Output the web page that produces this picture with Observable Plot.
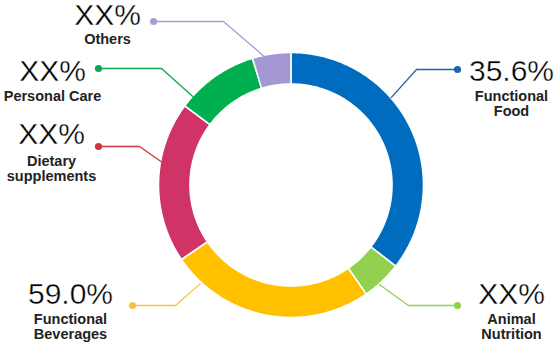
<!DOCTYPE html>
<html>
<head>
<meta charset="utf-8">
<script src="https://cdn.jsdelivr.net/npm/d3@7"></script>
<script src="https://cdn.jsdelivr.net/npm/@observablehq/plot@0.6"></script>
<style>
  html, body { margin: 0; padding: 0; background: #fff; }
  #chart svg { display: block; }
</style>
</head>
<body>
<div id="chart"></div>
<script>
// ---- data ----
const categories = ["Functional Food", "Animal Nutrition", "Functional Beverages", "Dietary supplements", "Personal Care", "Others"];
const shares = [35.5, 4.9, 25.1, 19.7, 10.1, 4.7];
const pctLabels = ["35.6%", "XX%", "59.0%", "XX%", "XX%", "XX%"];
const nameLabels = ["Functional\nFood", "Animal\nNutrition", "Functional\nBeverages", "Dietary\nsupplements", "Personal Care", "Others"];
const sliceColors = ["#006cbf", "#92d050", "#ffc000", "#d03366", "#00b050", "#a597d4"];
const leaderColors = ["#1f62ad", "#92d050", "#f7c342", "#c9393d", "#0aa653", "#a99cd8"];

// ---- layout (positions only) ----
const W = 556, H = 343;
const cx = 290.5, cy = 184.5, rInner = 101, rOuter = 132.5;
// leader: ring angle (deg, clockwise from top), ring radius, elbow, dot; text: center x, pct baseline, name baseline (last line)
const layout = [
  {ang: 48.9,  r: 133, ex: 416, ey: 69,  dx: 457, dy: 69,  tx: 511, py: 80,  ny: 115},
  {ang: 138.4, r: 133, ex: 408, ey: 305, dx: 457, dy: 305, tx: 511, py: 303, ny: 338},
  {ang: 222.6, r: 134, ex: 175, ey: 305, dx: 132, dy: 305, tx: 70,  py: 303, ny: 338},
  {ang: 280,   r: 131, ex: 139, ey: 146, dx: 98,  dy: 146, tx: 51,  py: 143, ny: 180},
  {ang: 312,   r: 131, ex: 161, ey: 68,  dx: 98,  dy: 68,  tx: 52,  py: 80,  ny: 100},
  {ang: 348,   r: 132, ex: 223, ey: 21,  dx: 153, dy: 21,  tx: 107, py: 24,  ny: 43}
];

// ---- slices via d3.pie ----
const pie = d3.pie().sort(null).value(d => d)(shares);
const polar = (r, a) => [cx + r * Math.sin(a), cy - r * Math.cos(a)];
const slicePts = [];
pie.forEach((p, i) => {
  const n = Math.max(8, Math.ceil((p.endAngle - p.startAngle) / 0.01));
  for (let k = 0; k <= n; k++) {
    const a = p.startAngle + (p.endAngle - p.startAngle) * k / n;
    const [x, y] = polar(rOuter, a);
    slicePts.push({category: categories[i], x, y});
  }
  for (let k = n; k >= 0; k--) {
    const a = p.startAngle + (p.endAngle - p.startAngle) * k / n;
    const [x, y] = polar(rInner, a);
    slicePts.push({category: categories[i], x, y});
  }
});

// ---- leader lines ----
const leaderPts = [];
const dots = [];
layout.forEach((L, i) => {
  const [sx, sy] = polar(L.r, L.ang * Math.PI / 180);
  leaderPts.push({category: categories[i], x: sx, y: sy});
  leaderPts.push({category: categories[i], x: L.ex, y: L.ey});
  leaderPts.push({category: categories[i], x: L.dx, y: L.dy});
  dots.push({category: categories[i], x: L.dx, y: L.dy, color: leaderColors[i]});
});

const labels = categories.map((c, i) => ({
  category: c, pct: pctLabels[i], name: nameLabels[i],
  x: layout[i].tx, py: layout[i].py, ny: layout[i].ny
}));

const chart = Plot.plot({
  width: W, height: H,
  margin: 0,
  x: {domain: [0, W], range: [0, W], axis: null},
  y: {domain: [0, H], range: [0, H], axis: null},
  style: {background: "#fff"},
  marks: [
    Plot.line(slicePts, {
      x: "x", y: "y", z: "category",
      fill: d => sliceColors[categories.indexOf(d.category)],
      stroke: "#fff", strokeWidth: 1.6, curve: "linear-closed"
    }),
    ...categories.map((c, i) => Plot.line(leaderPts.filter(d => d.category === c), {
      x: "x", y: "y", stroke: leaderColors[i], strokeWidth: 1.3
    })),
    Plot.dot(dots, {x: "x", y: "y", r: 3.6, fill: d => d.color, stroke: null}),
    Plot.text(labels, {
      x: "x", y: "py", text: "pct", textAnchor: "middle", lineAnchor: "bottom",
      fontFamily: "Liberation Sans", fontWeight: "normal", fontSize: 30, fill: "#000",
      stroke: "#fff", strokeWidth: 0.4, paintOrder: "normal"
    }),
    Plot.text(labels, {
      x: "x", y: "ny", text: "name", textAnchor: "middle", lineAnchor: "bottom",
      lineHeight: 1.03,
      fontFamily: "Liberation Sans", fontWeight: "bold", fontSize: 14.5, fill: "#222"
    })
  ]
});
document.getElementById("chart").appendChild(chart);
</script>
</body>
</html>
